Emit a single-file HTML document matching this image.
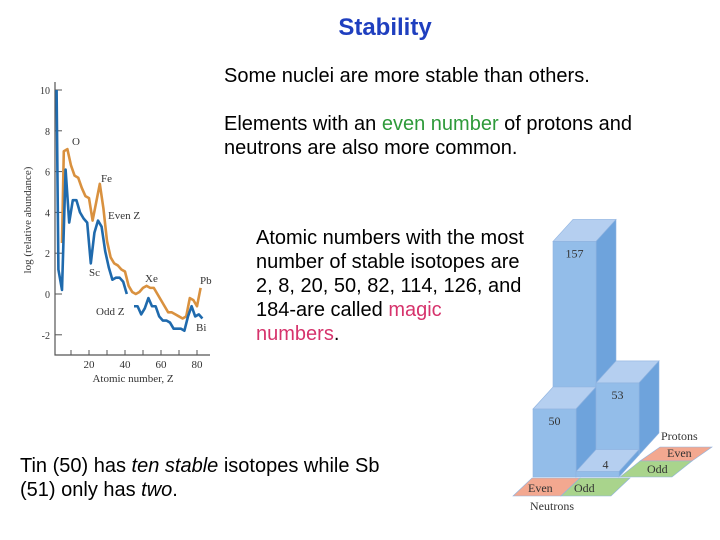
<!DOCTYPE html>
<html><head><meta charset="utf-8"><style>
body{margin:0;width:720px;height:540px;background:#fff;font-family:"Liberation Sans",Arial,sans-serif;position:relative;overflow:hidden}
.t{position:absolute;font-size:20px;line-height:24px;color:#000;white-space:nowrap}
</style></head><body>
<div style="position:absolute;left:0;width:770px;top:14px;text-align:center;font-size:24px;font-weight:bold;color:#1f3fbf">Stability</div>
<div class="t" style="left:224px;top:64px">Some nuclei are more stable than others.</div>
<div class="t" style="left:224px;top:112px">Elements with an <span style="color:#2e9a3a">even number</span> of protons and<br>neutrons are also more common.</div>
<div class="t" style="left:256px;top:226px">Atomic numbers with the most<br>number of stable isotopes are<br>2, 8, 20, 50, 82, 114, 126, and<br>184-are called <span style="color:#d6336c">magic</span><br><span style="color:#d6336c">numbers</span>.</div>
<div class="t" style="left:20px;top:454px">Tin (50) has <i>ten stable</i> isotopes while Sb<br>(51) only has <i>two</i>.</div>

<svg id="abund" width="720" height="540" style="position:absolute;left:0;top:0" font-family="Liberation Serif,serif"></svg>

<script>
const evenZ=[5,6,8,10,12,14,16,18,20,22,24,26,28,30,32,34,36,38,40,42,44,46,48,50,52,54,56,58,60,62,64,66,68,70,72,74,76,78,80,82];
const evenV=[2.5,7.0,7.1,6.3,5.8,5.7,5.2,4.8,4.7,3.6,4.5,5.4,4.2,2.6,1.8,1.5,1.4,1.2,1.1,0.4,0.1,0.0,0.1,0.3,0.4,0.3,0.3,0.0,-0.3,-0.6,-0.9,-0.9,-1.0,-1.1,-1.2,-1.1,-0.2,-0.3,-0.6,0.3];
const oddZ1=[2,3,5,7,9,11,13,15,17,19,21,23,25,27,29,31,33,35,37,39,41];
const oddV1=[10,1.2,0.2,6.1,3.5,4.6,4.6,4.0,3.7,3.5,1.5,3.0,3.6,3.3,2.1,1.3,0.7,0.8,0.8,0.6,0.0];
const oddZ2=[45,47,49,51,53,55,57,59,61,63,65,67,69,71,73,75,77,79,81,83];
const oddV2=[-0.6,-0.6,-1.0,-0.7,-0.2,-0.6,-0.6,-1.1,-1.3,-1.3,-1.4,-1.7,-1.7,-1.7,-1.8,-1.1,-0.6,-1.1,-1.0,-1.2];
const yTicks=[-2,0,2,4,6,8,10];
const yTickLabels=['-2','0','2','4','6','8','10'];
const xTicks=[20,40,60,80];
const barVals=[157,53,50,4];
const barCells=[[0,0],[1,0],[0,1],[1,1]];
const svg=document.getElementById('abund');
const NS='http://www.w3.org/2000/svg';
const X=z=>53+z*1.8, Y=v=>294-v*20.4;
function mk(t,a,p){const e=document.createElementNS(NS,t);for(const k in a)e.setAttribute(k,a[k]);(p||svg).appendChild(e);return e;}
function txt(s,x,y,a){const e=mk('text',Object.assign({x:x,y:y,'font-size':11,fill:'#333'},a||{}));e.textContent=s;return e;}
let ax=mk('path',{d:'M55 82 V355 H210',stroke:'#555','stroke-width':1.2,fill:'none'});

yTicks.forEach((v,i)=>{mk('line',{x1:55,x2:62,y1:Y(v),y2:Y(v),stroke:'#555'});let t=txt(yTickLabels[i],50,Y(v)+4,{'text-anchor':'end','font-size':10});
});
[10,30,50,70].concat(xTicks).forEach(z=>mk('line',{x1:X(z),x2:X(z),y1:350,y2:355,stroke:'#555'}));
xTicks.forEach(z=>{let t=txt(z,X(z),368,{'text-anchor':'middle'});});
let xt=txt('Atomic number, Z',133,382,{'text-anchor':'middle'});
let yt=txt('log (relative abundance)',31,220,{'text-anchor':'middle',transform:'rotate(-90 31 220)'});
function line(zs,vs,c,n){let p=mk('polyline',{points:zs.map((z,i)=>X(z)+','+Y(vs[i])).join(' '),fill:'none',stroke:c,'stroke-width':2.6,'stroke-linejoin':'round'});}
line(evenZ,evenV,'#d9913f','even-z-line');
line(oddZ1,oddV1,'#1f6aad','odd-z-line');
line(oddZ2,oddV2,'#1f6aad','odd-z-line-2');
[['O',72,145],['Fe',101,182],['Even Z',108,219],['Sc',89,276],['Xe',145,282],['Pb',200,284],['Odd Z',96,315],['Bi',196,331]].forEach(l=>{let t=txt(l[0],l[1],l[2]);});

const S=1.36,W=43,DX=20,DY=-22;
function poly(pts,f,n){let p=mk('polygon',{points:pts.map(q=>q.join(',')).join(' '),fill:f,stroke:'#8fb3e0','stroke-width':0.6});}
poly([[513,496],[532,478],[580,478],[561,496]],'#f3a890','neutron-even');
poly([[561,496],[580,478],[630,478],[611,496]],'#a9d48c','neutron-odd');
poly([[640,461],[660,447],[712,447],[692,461]],'#f3a890','proton-even');
poly([[620,477],[640,461],[692,461],[672,477]],'#a9d48c','proton-odd');
barVals.forEach((v,i)=>{const c=barCells[i];const x0=533+c[0]*W+(1-c[1])*DX, y0=477+(1-c[1])*DY, h=v*S;
poly([[x0,y0-h],[x0+W,y0-h],[x0+W+DX,y0-h+DY],[x0+DX,y0-h+DY]],'#b5cff0','bar-top');
poly([[x0+W,y0],[x0+W,y0-h],[x0+W+DX,y0-h+DY],[x0+W+DX,y0+DY]],'#6ea3dc','bar-side');
poly([[x0,y0],[x0,y0-h],[x0+W,y0-h],[x0+W,y0]],'#93bde9','bar-front');
let t=txt(v,c[0]===1&&c[1]===1?x0+W/2+8:x0+W/2,c[0]===1&&c[1]===1?y0-h-3:y0-h+16,{'text-anchor':'middle','font-size':12});});
[['Protons',661,440],['Even',667,457],['Odd',647,473],['Even',528,492],['Odd',574,492],['Neutrons',530,510]].forEach(l=>{let t=txt(l[0],l[1],l[2],{'font-size':12});});
</script>
</body></html>
